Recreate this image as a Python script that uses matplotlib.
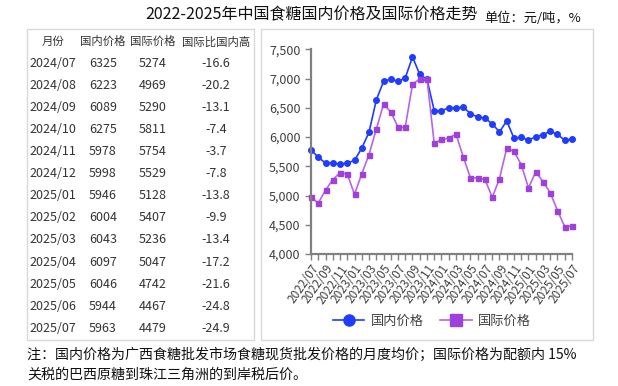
import numpy as np
import matplotlib
matplotlib.use("Agg")
import matplotlib.pyplot as plt
from matplotlib.patches import Rectangle
from matplotlib.lines import Line2D
from matplotlib.ticker import FuncFormatter, MultipleLocator

plt.rcParams['font.family'] = ['Noto Sans CJK SC', 'DejaVu Sans']

# monthly series 2022/07 .. 2025/07
months = ["%d/%02d" % (2022 + (6 + i) // 12, (6 + i) % 12 + 1) for i in range(37)]
domestic = [5780, 5655, 5555, 5550, 5540, 5555, 5600, 5810, 6080, 6630,
            6950, 6990, 6950, 7010, 7370, 7070, 6985, 6450, 6450, 6500,
            6500, 6510, 6400, 6340, 6325, 6223, 6089, 6275, 5978, 5998,
            5946, 6004, 6043, 6097, 6046, 5944, 5963]
international = [4975, 4870, 5090, 5270, 5390, 5370, 5020, 5370, 5700, 6130,
                 6560, 6430, 6170, 6170, 6900, 6995, 6990, 5890, 5960, 5980,
                 6050, 5660, 5300, 5300, 5274, 4969, 5290, 5811, 5754, 5529,
                 5128, 5407, 5236, 5047, 4742, 4467, 4479]

# table on the left
tbl_header = ["月份", "国内价格", "国际价格", "国际比国内高"]
tbl_month = ["2024/07", "2024/08", "2024/09", "2024/10", "2024/11", "2024/12",
             "2025/01", "2025/02", "2025/03", "2025/04", "2025/05", "2025/06", "2025/07"]
tbl_dom = [6325, 6223, 6089, 6275, 5978, 5998, 5946, 6004, 6043, 6097, 6046, 5944, 5963]
tbl_int = [5274, 4969, 5290, 5811, 5754, 5529, 5128, 5407, 5236, 5047, 4742, 4467, 4479]
tbl_diff = ["-16.6", "-20.2", "-13.1", "-7.4", "-3.7", "-7.8", "-13.8",
            "-9.9", "-13.4", "-17.2", "-21.6", "-24.8", "-24.9"]

W, H = 618, 386
fig = plt.figure(figsize=(W / 100, H / 100), dpi=100)


def fx(x):
    return x / W


def fy(y):
    return 1 - y / H


# panel frames
for x0, x1 in [(27, 254), (261, 593)]:
    fig.patches.append(Rectangle((fx(x0), fy(340)), fx(x1 - x0), (340 - 29) / H,
                                 transform=fig.transFigure, fill=False,
                                 edgecolor="#d9d9d9", lw=1))

# titles
fig.text(fx(312), fy(15), "2022-2025年中国食糖国内价格及国际价格走势",
         ha="center", va="center", fontsize=11.5, color="#111111")
fig.text(fx(581), fy(18), "单位：元/吨，%", ha="right", va="center",
         fontsize=9.5, color="#111111")

# table text
tc = "#333333"
fs = 9
col_x = [53, 103, 153, 216]
for cx, h in zip(col_x, tbl_header):
    fig.text(fx(cx), fy(41.7), h, ha="center", va="center", fontsize=8.2, color=tc)
for i in range(len(tbl_month)):
    y = fy(63.3 + i * 22.08)
    fig.text(fx(29), y, tbl_month[i], ha="left", va="center", fontsize=fs, color=tc)
    fig.text(fx(col_x[1]), y, str(tbl_dom[i]), ha="center", va="center", fontsize=fs, color=tc)
    fig.text(fx(col_x[2]), y, str(tbl_int[i]), ha="center", va="center", fontsize=fs, color=tc)
    fig.text(fx(col_x[3]), y, tbl_diff[i], ha="center", va="center", fontsize=fs, color=tc)

# line chart
blue = "#1f3cff"
purple = "#a040dc"
ax = fig.add_axes([fx(311), fy(254), fx(572 - 311), (254 - 49.3) / H])
x = np.arange(len(months))
ax.plot(x, domestic, color=blue, lw=1.2, marker="o", ms=4, clip_on=False)
ax.plot(x, international, color="#b566e6", lw=1.2, marker="s", ms=3.6,
        mfc=purple, mec=purple, clip_on=False)
ax.set_xlim(0, len(months) - 1)
ax.set_ylim(4000, 7500)
ax.yaxis.set_major_locator(MultipleLocator(500))
ax.yaxis.set_major_formatter(FuncFormatter(lambda v, p: "{:,.0f}".format(v)))
ax.set_xticks(x[::2])
ax.set_xticklabels(months[::2], rotation=55, ha="right", rotation_mode="anchor",
                   fontsize=8.5, color="#404040")
ax.set_xticks(x, minor=True)
ax.tick_params(axis="y", labelsize=9, labelcolor="#404040", color="#808080",
               length=4, width=1)
ax.tick_params(axis="x", which="both", color="#808080", length=4, width=1, pad=2)
for s in ["top", "right"]:
    ax.spines[s].set_visible(False)
for s in ["left", "bottom"]:
    ax.spines[s].set_color("#808080")
    ax.spines[s].set_linewidth(1.6)
ax.set_facecolor("none")

handles = [Line2D([], [], color=blue, lw=1.2, marker="o", ms=8),
           Line2D([], [], color="#b566e6", lw=1.2, marker="s", ms=8,
                  mfc=purple, mec=purple)]
fig.legend(handles, ["国内价格", "国际价格"], loc="center",
           bbox_to_anchor=(fx(432), fy(321)), ncol=2, frameon=False,
           fontsize=9.5, handlelength=2.4, columnspacing=1.2, handletextpad=0.5,
           labelcolor="#404040")

# footnote
fig.text(fx(27), fy(355), "注：国内价格为广西食糖批发市场食糖现货批发价格的月度均价；国际价格为配额内 15%",
         ha="left", va="center", fontsize=10.1, color="#111111")
fig.text(fx(27), fy(375), "关税的巴西原糖到珠江三角洲的到岸税后价。",
         ha="left", va="center", fontsize=10.1, color="#111111")

fig.savefig("out.png", dpi=100)
